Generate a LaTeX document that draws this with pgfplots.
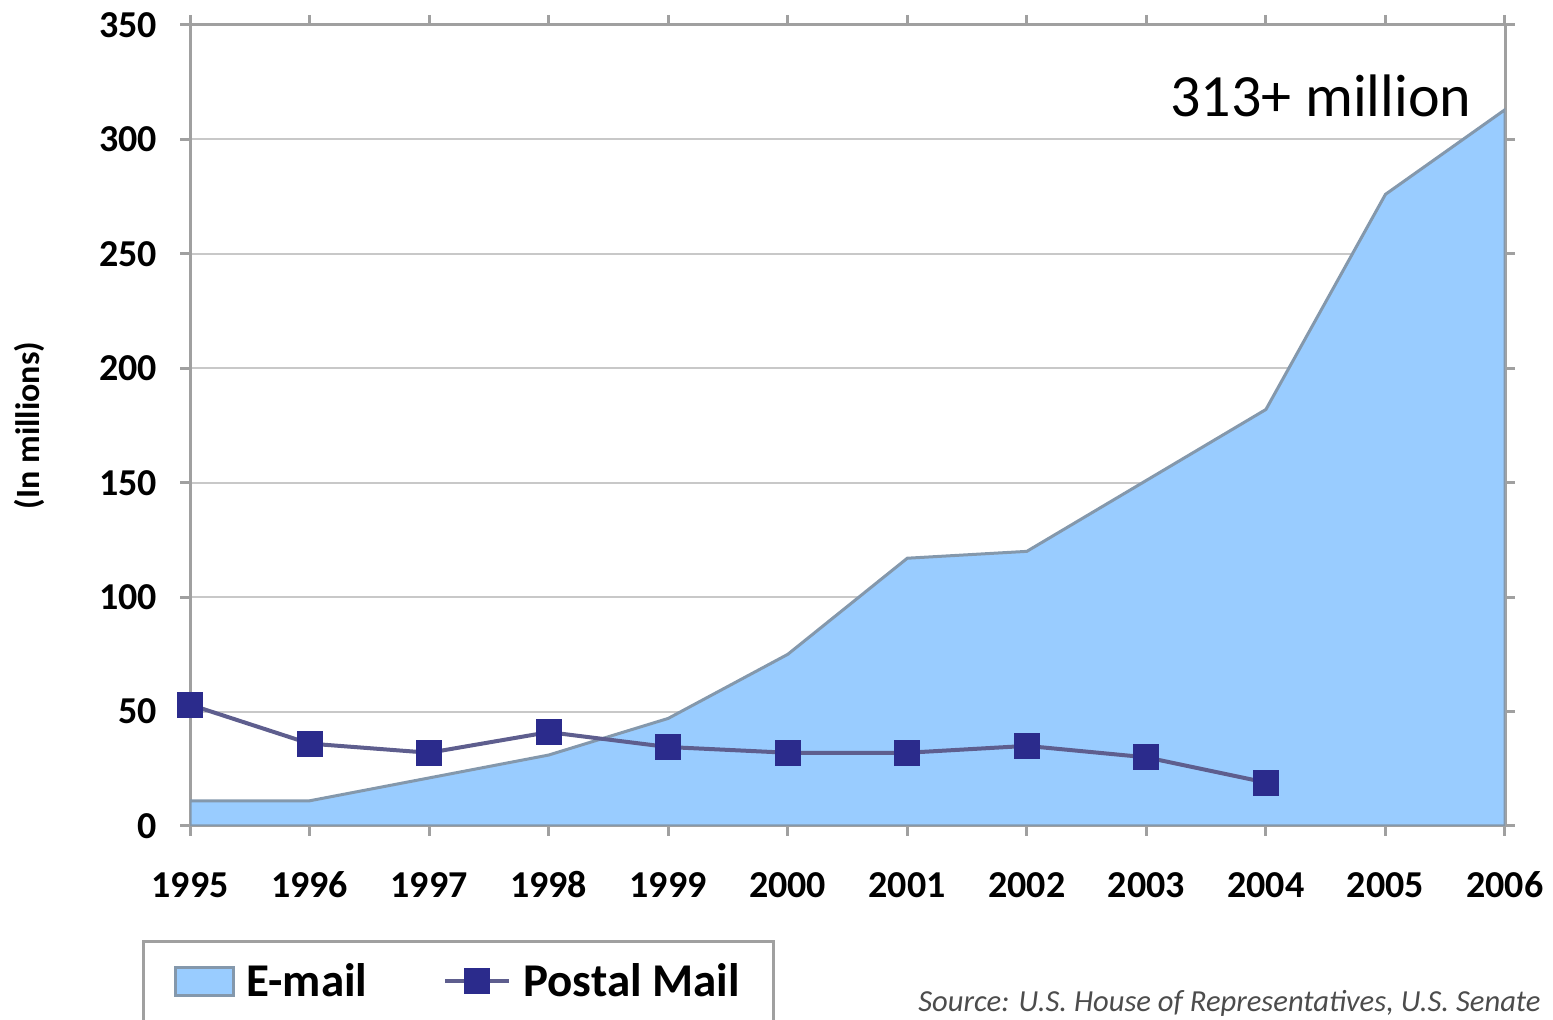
\documentclass[border=0pt]{standalone}
\usepackage{pgfplots}
\pgfplotsset{compat=1.18}
\usepackage{fontspec}
\setmainfont{Carlito}
\definecolor{emailfill}{HTML}{99CCFF}
\definecolor{areaedge}{HTML}{8498AC}
\definecolor{postline}{HTML}{5E5E8E}
\definecolor{postmark}{HTML}{2B2B8C}
\definecolor{gridgray}{HTML}{C8C8C8}
\definecolor{axisgray}{HTML}{A0A0A0}
\pgfplotsset{
    email legend/.style={legend image code/.code={
        \draw[fill=emailfill, draw=areaedge, line width=1.5pt] (0pt,-7pt) rectangle (29pt,7pt);}},
    postal legend/.style={legend image code/.code={
        \draw[##1, mark repeat=2, mark phase=2] plot coordinates {(0pt,0pt) (16pt,0pt) (32pt,0pt)};}},
}
\begin{document}
\begin{tikzpicture}
\begin{axis}[
    at={(95pt,97pt)}, anchor=south west,
    scale only axis,
    width=657.5pt, height=400.5pt,
    xmin=1995, xmax=2006,
    ymin=0, ymax=350,
    xtick={1995,...,2006},
    ytick={0,50,...,350},
    ymajorgrids=true,
    grid style={color=gridgray, line width=1pt},
    axis line style={color=axisgray, line width=1.5pt},
    tick align=outside,
    major tick length=5pt,
    tick style={color=axisgray, line width=1.5pt},
    ticklabel style={font=\fontsize{19}{19}\selectfont\bfseries},
    xticklabel style={yshift=-14pt, text height=13pt, text depth=0pt},
    yticklabel style={xshift=-8pt},
    /pgf/number format/assume math mode=true,
    /pgf/number format/1000 sep={},
    ylabel={(In millions)},
    ylabel style={at={(axis description cs:-0.122,0.5)}, anchor=center,
        font=\fontsize{17}{17}\selectfont\bfseries},
    legend columns=2,
    legend style={at={(axis description cs:-0.0365,-0.142)}, anchor=north west,
        draw=axisgray, line width=1.5pt,
        font=\fontsize{23.5}{23.5}\selectfont\bfseries,
        inner xsep=15pt, inner ysep=9pt,
        /tikz/every odd column/.append style={column sep=4pt},
        /tikz/every even column/.append style={column sep=36pt}},
]

% E-mail
\addplot[fill=emailfill, draw=areaedge, line width=1.5pt, email legend]
    coordinates {
        (1995, 11) (1996, 11) (1997, 21) (1998, 31)
        (1999, 47) (2000, 75) (2001, 117) (2002, 120)
        (2003, 151) (2004, 182) (2005, 276) (2006, 313)
    } \closedcycle;
\addlegendentry{E-mail}

% Postal Mail
\addplot[color=postline, line width=2pt,
    mark=square*, mark size=5.5pt,
    mark options={draw=postmark, fill=postmark},
    postal legend]
    coordinates {
        (1995, 53) (1996, 36) (1997, 32) (1998, 41)
        (1999, 34.5) (2000, 32) (2001, 32) (2002, 35)
        (2003, 30) (2004, 19)
    };
\addlegendentry{Postal Mail}

\node[font=\fontsize{30}{30}\selectfont] at (axis cs:2004.46,319) {313+ million};
\end{axis}
\node[anchor=base west, font=\fontsize{15.3}{15.3}\selectfont\itshape, text=black!70, inner sep=0pt]
    at (459pt,4pt) {Source: U.S. House of Representatives, U.S. Senate};
\pgfresetboundingbox
\path[use as bounding box] (0,0) rectangle (776.5pt,510pt);
\end{tikzpicture}
\end{document}
